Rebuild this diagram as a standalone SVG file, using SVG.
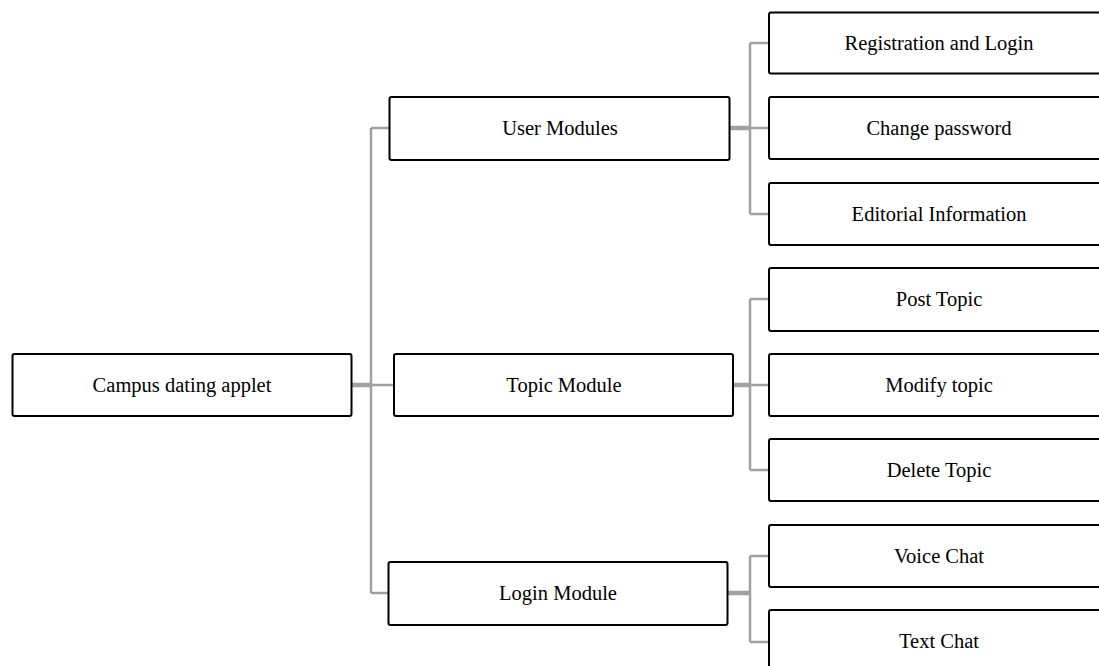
<svg xmlns="http://www.w3.org/2000/svg" width="1099" height="666" viewBox="0 0 1099 666">
<style>
.box{fill:#fff;stroke:#000;stroke-width:2}
.t{font-family:"Liberation Serif","Times New Roman",serif;font-size:20.5px;fill:#000;text-anchor:middle}
.ln{fill:none;stroke:#a0a0a0;stroke-width:2.5}
.thk{fill:none;stroke:#a0a0a0;stroke-width:4.5}
</style>
<rect width="1099" height="666" fill="#fff"/>
<g id="connectors">
<path class="ln" d="M371 128V593"/>
<path class="ln" d="M371 128H389M371 593H389M371 385H394"/>
<path class="thk" d="M351 385H371"/>
<path class="thk" d="M729 128H750M733 385H750M727 593H750"/>
<path class="ln" d="M750 43V214M750 43H769M750 128H769M750 214H769"/>
<path class="ln" d="M750 299V470M750 299H769M750 385H769M750 470H769"/>
<path class="ln" d="M750 556V642M750 556H769M750 642H769"/>
</g>
<g id="root"><rect class="box" x="12.5" y="354" width="339" height="62" rx="2"/><text class="t" x="182" y="392">Campus dating applet</text></g>
<g id="user"><rect class="box" x="389.5" y="97" width="340" height="63" rx="2"/><text class="t" x="560" y="135">User Modules</text></g>
<g id="topic"><rect class="box" x="394" y="354" width="339" height="62" rx="2"/><text class="t" x="564" y="392">Topic Module</text></g>
<g id="login"><rect class="box" x="388.5" y="562" width="339" height="63" rx="2"/><text class="t" x="558" y="600">Login Module</text></g>
<g id="reg"><rect class="box" x="769" y="12.5" width="340" height="61" rx="2"/><text class="t" x="939" y="50">Registration and Login</text></g>
<g id="chpw"><rect class="box" x="769" y="97" width="340" height="62" rx="2"/><text class="t" x="939" y="135">Change password</text></g>
<g id="edit"><rect class="box" x="769" y="183" width="340" height="62" rx="2"/><text class="t" x="939" y="221">Editorial Information</text></g>
<g id="post"><rect class="box" x="769" y="268" width="340" height="63" rx="2"/><text class="t" x="939" y="306">Post Topic</text></g>
<g id="modify"><rect class="box" x="769" y="354" width="340" height="62" rx="2"/><text class="t" x="939" y="392">Modify topic</text></g>
<g id="delete"><rect class="box" x="769" y="439" width="340" height="62" rx="2"/><text class="t" x="939" y="477">Delete Topic</text></g>
<g id="voice"><rect class="box" x="769" y="525" width="340" height="62" rx="2"/><text class="t" x="939" y="563">Voice Chat</text></g>
<g id="text"><rect class="box" x="769" y="610" width="340" height="62" rx="2"/><text class="t" x="939" y="648">Text Chat</text></g>
</svg>
